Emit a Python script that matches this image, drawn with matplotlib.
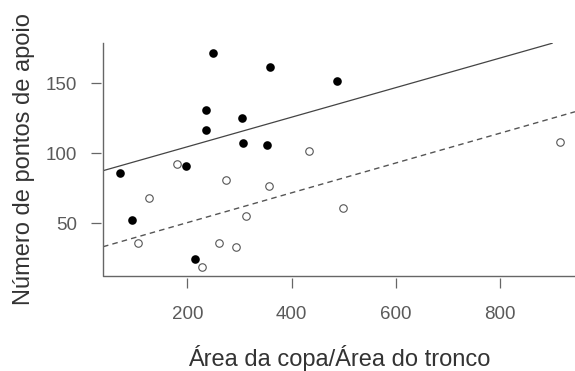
import matplotlib
matplotlib.use("Agg")
import matplotlib.pyplot as plt

# filled points (black)
filled_x = [71, 93, 249, 359, 488, 236, 236, 304, 306, 352, 198, 215]
filled_y = [85.7, 52.6, 171.9, 161.4, 151.6, 131.1, 116.9, 125.0, 107.1, 105.9, 91.1, 24.3]

# open points
open_x = [181, 127, 105, 274, 357, 313, 260, 293, 228, 434, 499, 915]
open_y = [92.6, 67.8, 35.9, 81.1, 76.6, 55.4, 35.9, 33.1, 18.8, 101.6, 60.7, 107.9]

# fitted lines (endpoints)
solid_x = [38, 900]
solid_y = [87.6, 178.6]
dashed_x = [38, 944]
dashed_y = [33.3, 129.7]

xticks = [200, 400, 600, 800]
yticks = [50, 100, 150]

plt.rcParams["font.family"] = ["Liberation Sans", "DejaVu Sans"]

fig = plt.figure(figsize=(5.75, 3.71), dpi=100)
ax = fig.add_axes([103 / 575, 1 - 276 / 371, 1 - 103 / 575, (276 - 43) / 371])

ax.plot(solid_x, solid_y, color="#444444", lw=0.9)
ax.plot(dashed_x, dashed_y, color="#555555", lw=1.0, ls=(0, (4, 3)))
ax.plot(filled_x, filled_y, "o", color="black", ms=6.2, mew=0)
ax.plot(open_x, open_y, "o", mfc="white", mec="#555555", ms=5.4, mew=0.8)

ax.set_xlim(38, 944)
ax.set_ylim(12.4, 178.8)
ax.set_xticks(xticks)
ax.set_yticks(yticks)

for side in ["top", "right"]:
    ax.spines[side].set_visible(False)
for side in ["left", "bottom"]:
    ax.spines[side].set_position(("outward", 1.5))
    ax.spines[side].set_color("none")
ax.plot([0, 0, 1], [1, 0, 0], transform=ax.transAxes, color="#666666", lw=1.0, clip_on=False)

ax.tick_params(direction="out", length=7, width=0.9, color="#666666",
               labelcolor="#5a5a5a", labelsize=13.5)
ax.tick_params(axis="x", pad=13)
ax.tick_params(axis="y", pad=10)

ax.set_xlabel("Área da copa/Área do tronco", fontsize=17, color="#333333", labelpad=16)
ax.set_ylabel("Número de pontos de apoio", fontsize=17, color="#333333", labelpad=8)

fig.savefig("out.png", dpi=100)
